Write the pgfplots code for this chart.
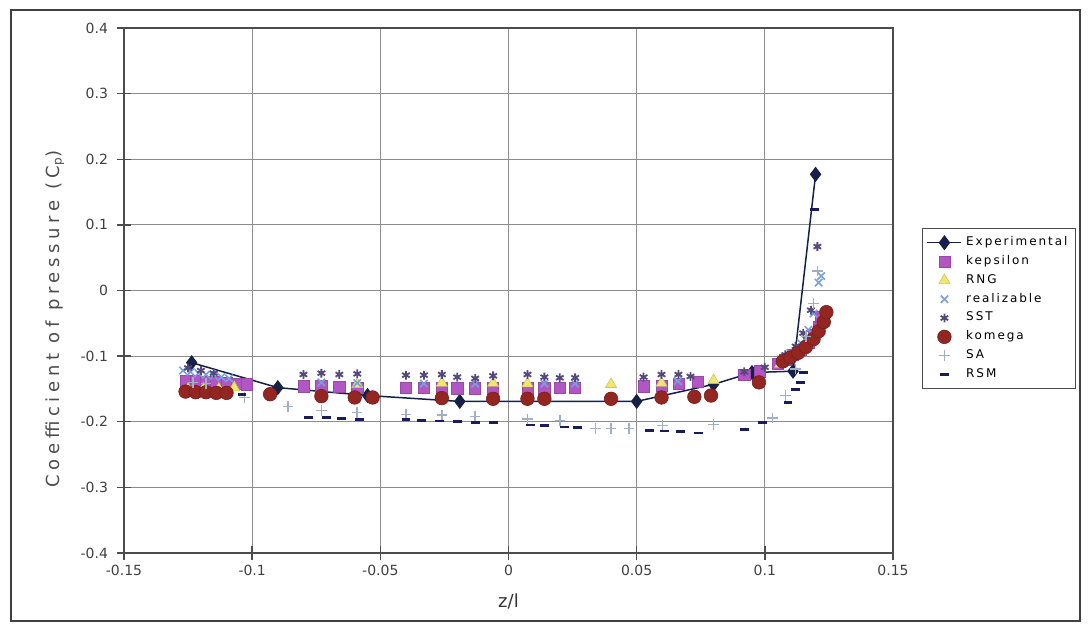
\documentclass[border=0pt]{standalone}
\usepackage{fontspec}
\setmainfont{DejaVu Sans}
\usepackage{pgfplots}
\pgfplotsset{compat=1.18}
\definecolor{expc}{RGB}{22,32,72}
\definecolor{kepc}{RGB}{178,86,196}
\definecolor{rngc}{RGB}{240,232,110}
\definecolor{relc}{RGB}{120,160,220}
\definecolor{sstc}{RGB}{85,72,125}
\definecolor{komc}{RGB}{148,38,34}
\definecolor{sac}{RGB}{160,175,200}
\definecolor{rsmc}{RGB}{25,28,90}
\begin{document}
\begin{tikzpicture}
\begin{axis}[
  at={(62pt,37.5pt)}, anchor=south west, scale only axis,
  width=384.5pt, height=262.5pt,
  xmin=-0.15, xmax=0.15, ymin=-0.4, ymax=0.4,
  xtick={-0.15,-0.1,-0.05,0,0.05,0.1,0.15},
  xticklabels={-0.15,-0.1,-0.05,0,0.05,0.1,0.15},
  ytick={-0.4,-0.3,-0.2,-0.1,0,0.1,0.2,0.3,0.4},
  yticklabels={-0.4,-0.3,-0.2,-0.1,0,0.1,0.2,0.3,0.4},
  xtick pos=bottom, ytick pos=left,
  grid=major, grid style={black!45, line width=0.6pt},
  axis line style={black!70, line width=0.9pt},
  tick align=center, major tick length=7pt,
  tick style={black!70, line width=0.7pt},
  ticklabel style={font=\fontsize{7}{8}\selectfont, text=black!75},
  xticklabel style={yshift=1pt},
  yticklabel style={xshift=-1pt},
  xlabel={z/l},
  xlabel style={at={(axis description cs:0.5,-0.0933)}, anchor=center, font=\fontsize{9}{10}\selectfont, text=black!80},
  ylabel={\addfontfeature{LetterSpace=26}Coefficient of pressure (C\textsubscript{p})},
  ylabel style={at={(axis description cs:-0.0897,0.446)}, anchor=center, font=\fontsize{9}{10}\selectfont, text=black!70},
  legend style={at={(axis description cs:1.0377,0.619)}, anchor=north west,
    draw=black!70, line width=0.6pt, fill=white,
    font=\fontsize{6}{7}\selectfont\addfontfeature{LetterSpace=16},
    inner xsep=2pt, inner ysep=2pt, row sep=-0.6pt},
  legend cell align=left,
  clip=false,
]
\addplot[color=expc, line width=0.75pt, mark=diamond*, mark size=3.2pt, mark options={fill=expc}] coordinates {
(-0.1236,-0.110) (-0.090,-0.148) (-0.055,-0.160) (-0.019,-0.169) (0.050,-0.169) (0.080,-0.143) (0.095,-0.125) (0.111,-0.123) (0.1198,0.177)
};
\addlegendentry{Experimental}
\addplot[only marks, mark=square*, mark size=2.8pt, mark options={draw=kepc!85!black, fill=kepc, line width=0.3pt}] coordinates {
(-0.126,-0.137) (-0.122,-0.138) (-0.118,-0.139) (-0.114,-0.140) (-0.110,-0.141) (-0.106,-0.142) (-0.102,-0.143)
(-0.080,-0.146) (-0.073,-0.146) (-0.066,-0.147) (-0.059,-0.148)
(-0.040,-0.148) (-0.033,-0.148) (-0.026,-0.148) (-0.020,-0.149) (-0.013,-0.149) (-0.006,-0.149)
(0.0074,-0.149) (0.014,-0.149) (0.020,-0.148) (0.026,-0.148)
(0.0527,-0.146) (0.0597,-0.145) (0.0663,-0.142) (0.074,-0.139)
(0.092,-0.128) (0.098,-0.123)
(0.105,-0.112) (0.108,-0.105) (0.111,-0.098) (0.114,-0.090) (0.117,-0.080) (0.119,-0.068) (0.121,-0.055) (0.122,-0.040)
};
\addlegendentry{kepsilon}
\addplot[only marks, mark=triangle*, mark size=3.2pt, mark options={draw=rngc!85!black, fill=rngc, line width=0.3pt}] coordinates {
(-0.125,-0.150) (-0.119,-0.150) (-0.113,-0.150) (-0.107,-0.148)
(-0.059,-0.143) (-0.026,-0.141) (-0.006,-0.141) (0.0074,-0.142) (0.040,-0.143) (0.0597,-0.141) (0.080,-0.137)
(0.106,-0.112) (0.110,-0.102) (0.114,-0.090) (0.118,-0.075) (0.121,-0.060) (0.123,-0.050)
};
\addlegendentry{RNG}
\addplot[only marks, mark=x, mark size=2.6pt, mark options={draw=relc, line width=0.8pt}] coordinates {
(-0.127,-0.122) (-0.124,-0.124) (-0.121,-0.126) (-0.118,-0.128) (-0.115,-0.130) (-0.112,-0.132) (-0.109,-0.134)
(-0.073,-0.140) (-0.059,-0.141) (-0.033,-0.142) (-0.013,-0.142) (0.014,-0.142) (0.026,-0.142) (0.066,-0.138)
(0.106,-0.105) (0.110,-0.095) (0.114,-0.080) (0.117,-0.060) (0.119,-0.035) (0.121,0.012) (0.122,0.022)
};
\addlegendentry{realizable}
\addplot[only marks, mark=asterisk, mark size=2.2pt, mark options={draw=sstc, line width=0.9pt}] coordinates {
(-0.125,-0.118) (-0.120,-0.122) (-0.115,-0.126)
(-0.080,-0.128) (-0.073,-0.126) (-0.066,-0.128) (-0.059,-0.127)
(-0.040,-0.129) (-0.033,-0.129) (-0.026,-0.128) (-0.020,-0.132) (-0.013,-0.134) (-0.006,-0.130)
(0.0074,-0.128) (0.014,-0.132) (0.020,-0.133) (0.026,-0.133)
(0.0527,-0.132) (0.0597,-0.128) (0.0663,-0.128) (0.071,-0.131)
(0.092,-0.124) (0.100,-0.117)
(0.108,-0.098) (0.112,-0.085) (0.115,-0.065) (0.118,-0.030) (0.1205,0.067)
};
\addlegendentry{SST}
\addplot[only marks, mark=*, mark size=3.4pt, mark options={draw=komc!80!black, fill=komc, line width=0.3pt}] coordinates {
(-0.126,-0.154) (-0.122,-0.155) (-0.118,-0.155) (-0.114,-0.156) (-0.110,-0.156)
(-0.093,-0.158) (-0.073,-0.161) (-0.060,-0.163) (-0.053,-0.163) (-0.026,-0.164) (-0.006,-0.165)
(0.0074,-0.165) (0.014,-0.165) (0.040,-0.165) (0.0597,-0.163) (0.0725,-0.162) (0.079,-0.160) (0.0977,-0.140)
(0.107,-0.108) (0.110,-0.102) (0.113,-0.095) (0.116,-0.086) (0.119,-0.074) (0.121,-0.062) (0.123,-0.048) (0.124,-0.033)
};
\addlegendentry{komega}
\addplot[only marks, mark=+, mark size=2.6pt, mark options={draw=sac, line width=0.8pt}] coordinates {
(-0.123,-0.140) (-0.118,-0.142) (-0.103,-0.163) (-0.086,-0.177)
(-0.073,-0.183) (-0.059,-0.186) (-0.040,-0.189) (-0.026,-0.190) (-0.013,-0.192) (0.0074,-0.196) (0.020,-0.198)
(0.034,-0.210) (0.040,-0.210) (0.047,-0.210)
(0.060,-0.206) (0.080,-0.204) (0.103,-0.194) (0.108,-0.160)
(0.112,-0.120) (0.116,-0.070) (0.119,-0.020) (0.1205,0.030)
};
\addlegendentry{SA}
\addplot[only marks, mark=-, mark size=2.2pt, mark options={draw=rsmc, line width=1.4pt}] coordinates {
(-0.104,-0.158)
(-0.078,-0.194) (-0.071,-0.194) (-0.065,-0.195) (-0.058,-0.196)
(-0.040,-0.197) (-0.034,-0.198) (-0.027,-0.199) (-0.020,-0.200) (-0.013,-0.201) (-0.006,-0.201)
(0.0085,-0.205) (0.014,-0.206) (0.022,-0.208) (0.027,-0.209)
(0.055,-0.213) (0.061,-0.214) (0.067,-0.215) (0.074,-0.217)
(0.092,-0.212) (0.099,-0.201) (0.109,-0.171) (0.112,-0.151) (0.114,-0.140) (0.115,-0.125) (0.1195,0.123)
};
\addlegendentry{RSM}
\end{axis}
\draw[black!75, line width=0.9pt] (5.5pt,3.5pt) rectangle (540pt,309pt);
\pgfresetboundingbox
\useasboundingbox (0pt,0pt) rectangle (544pt,314pt);
\end{tikzpicture}
\end{document}
